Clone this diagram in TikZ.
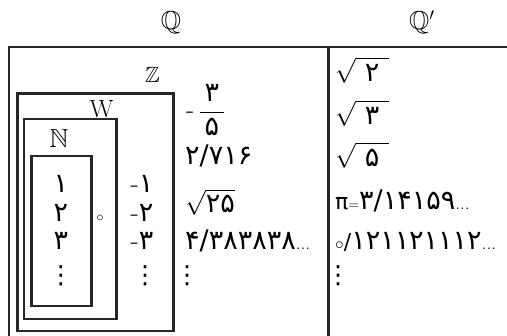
\documentclass[tikz,border=0pt]{standalone}
\usepackage{amsmath}
\usepackage{amssymb}
\usepackage{fontspec}
\newfontfamily\fa[Script=Arabic]{DejaVu Sans}
\newfontfamily\djv{DejaVu Sans}
\newcommand\ldts{{\fontsize{19}{20}\selectfont...}}
\newcommand\rzero[1]{{\fontsize{#1}{#1}\selectfont$\circ$}}
\begin{document}
\begin{tikzpicture}[x=1pt,y=-1pt,
  frameline/.style={line width=2.4pt, draw=black!85},
  setbox/.style={draw=black!85, line width=2.2pt, inner sep=0pt, rectangle},
  lbl/.style={inner sep=0pt, anchor=base},
  num/.style={inner sep=0pt, anchor=base west, font=\fontsize{27}{30}\selectfont},
  cnum/.style={inner sep=0pt, anchor=base, font=\fontsize{27}{30}\selectfont},
  dts/.style={inner sep=0pt, anchor=base, font=\djv\fontsize{25}{26}\selectfont},
]
\useasboundingbox (0,0) rectangle (507,336);
% frame
\coordinate (tl) at (9,47);
\coordinate (tr) at (507,47);
\coordinate (bl) at (9,336);
\coordinate (mt) at (328.5,47);
\coordinate (mb) at (328.5,336);
\draw[frameline, line cap=rect] (bl) -- (tl) -- (tr);
\draw[frameline] (mt) -- (mb);
% headings
\node[lbl, font=\fontsize{26}{28}\selectfont] (Q) at (171,30) {$\mathbb{Q}$};
\node[lbl, anchor=base west, font=\fontsize{26}{28}\selectfont] (Qp) at (409,30) {$\mathbb{Q}'$};
% set boxes
\node[setbox, minimum width=156pt, minimum height=237.5pt] (Zbox) at (95.5,212.25) {};
\node[setbox, minimum width=92.5pt, minimum height=200pt] (Wbox) at (70.25,219) {};
\node[setbox, minimum width=60pt, minimum height=150pt] (Nbox) at (61.5,231) {};
\node[lbl, font=\fontsize{22}{24}\selectfont] (Zl) at (152.5,83) {$\mathbb{Z}$};
\node[lbl, font=\fontsize{25}{27}\selectfont] (Wl) at (101.5,118) {W};
\node[lbl, font=\fontsize{26}{28}\selectfont] (Nl) at (59,148) {$\mathbb{N}$};
% naturals
\node[cnum] (n1) at (61,193) {\fa ۱};
\node[cnum] (n2) at (61,222) {\fa ۲};
\node[cnum] (n3) at (61,250) {\fa ۳};
\node[dts] (n4) at (61,284) {⋮};
% zero
\node[cnum] (z0) at (100,222) {\rzero{15}};
% negatives
\node[cnum] (m1) at (142,193) {-{\fa ۱}};
\node[cnum] (m2) at (142,222) {-{\fa ۲}};
\node[cnum] (m3) at (142,250) {-{\fa ۳}};
\node[dts] (m4) at (145,284) {⋮};
% rationals
\node[num, anchor=west] (q1) at (186,110) {-\,$\dfrac{\mbox{\fa ۳}}{\mbox{\fa\,۵\,}}$};
\node[num] (q2) at (185,165) {\fa ۲/۷۱۶};
\node[num] (q3) at (185,213) {$\sqrt{\rule{0pt}{18pt}\mbox{\fa ۲۵}}$};
\node[num] (q4) at (185,250) {{\fa ۴/۳۸۳۸۳۸}\ldts};
\node[dts] (q5) at (187,284) {⋮};
% irrationals
\node[num] (i1) at (335,82) {$\sqrt{\rule{0pt}{20pt}\hspace{9pt}\mbox{\fa ۲}\hspace{10pt}}$};
\node[num] (i2) at (335,125) {$\sqrt{\rule{0pt}{20pt}\hspace{9pt}\mbox{\fa ۳}\hspace{10pt}}$};
\node[num] (i3) at (335,167) {$\sqrt{\rule{0pt}{20pt}\hspace{9pt}\mbox{\fa ۵}\hspace{10pt}}$};
\node[num] (i4) at (335,210) {{\djv\fontsize{22}{24}\selectfont π}{\fontsize{15}{16}\selectfont =}{\fa ۳/۱۴۱۵۹}\ldts};
\node[num] (i5) at (335,250) {\rzero{17}{\djv\fontsize{22}{24}\selectfont /}{\fa ۱۲۱۱۲۱۱۱۲}\ldts};
\node[dts] (i6) at (338,284) {⋮};
\end{tikzpicture}
\end{document}
